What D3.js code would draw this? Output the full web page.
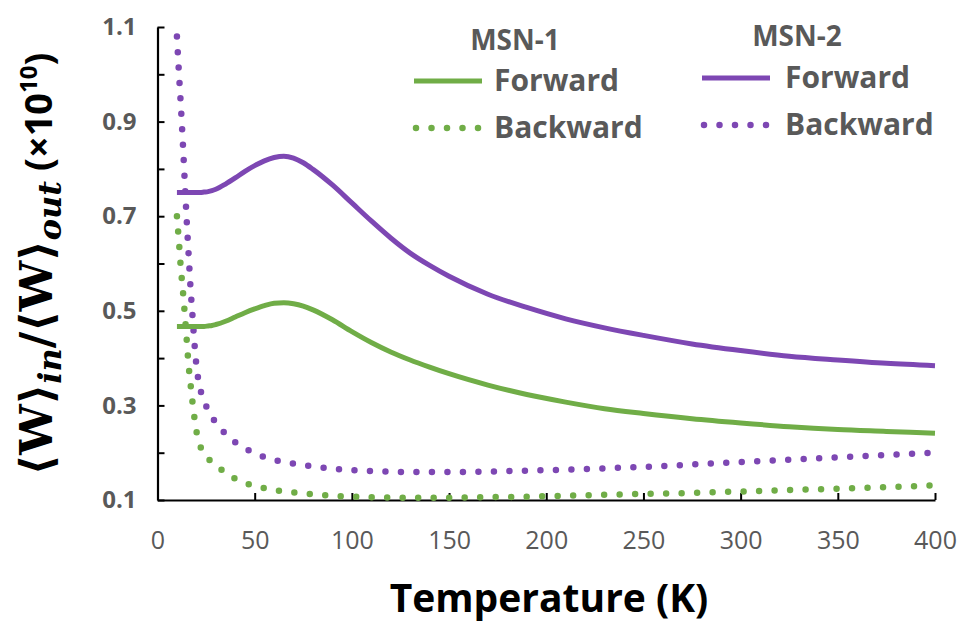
<!DOCTYPE html>
<html>
<head>
<meta charset="utf-8">
<script src="https://cdn.jsdelivr.net/npm/d3@7"></script>
<style>
  body { margin: 0; background: #fff; }
  svg { display: block; }
</style>
</head>
<body>
<script>
// temperature grid (K)
var temps = [10, 11, 12, 13, 14, 15, 16, 17, 18, 19, 20, 22, 24, 26, 28, 30, 35, 40, 45, 50,
             55, 60, 65, 70, 75, 80, 90, 100, 110, 120, 130, 140, 150, 170, 190, 210, 230,
             250, 275, 300, 325, 350, 375, 400];

var msn1Forward = [0.467, 0.467, 0.467, 0.467, 0.467, 0.467, 0.467, 0.467, 0.467, 0.467, 0.467,
                   0.467, 0.467, 0.468, 0.469, 0.471, 0.478, 0.487, 0.496, 0.504, 0.511, 0.516,
                   0.517, 0.515, 0.510, 0.502, 0.481, 0.456, 0.433, 0.413, 0.396, 0.381, 0.367,
                   0.343, 0.323, 0.307, 0.293, 0.283, 0.272, 0.263, 0.255, 0.249, 0.245, 0.241];

var msn1Backward = [0.700, 0.648, 0.590, 0.545, 0.495, 0.440, 0.385, 0.345, 0.307, 0.274, 0.246,
                    0.214, 0.199, 0.188, 0.180, 0.173, 0.158, 0.145, 0.136, 0.130, 0.125, 0.121,
                    0.118, 0.116, 0.114, 0.112, 0.109, 0.107, 0.106, 0.105, 0.105, 0.105, 0.105,
                    0.106, 0.107, 0.109, 0.111, 0.113, 0.115, 0.118, 0.121, 0.124, 0.127, 0.131];

var msn2Forward = [0.750, 0.750, 0.750, 0.750, 0.750, 0.750, 0.750, 0.750, 0.750, 0.750, 0.750,
                   0.750, 0.751, 0.752, 0.754, 0.757, 0.768, 0.781, 0.795, 0.807, 0.817, 0.824,
                   0.827, 0.823, 0.813, 0.799, 0.766, 0.728, 0.690, 0.654, 0.622, 0.596, 0.573,
                   0.535, 0.507, 0.483, 0.464, 0.448, 0.430, 0.416, 0.404, 0.396, 0.389, 0.384];

var msn2Backward = [1.080, 1.005, 0.935, 0.858, 0.775, 0.693, 0.620, 0.548, 0.490, 0.432, 0.385,
                    0.335, 0.308, 0.291, 0.276, 0.263, 0.240, 0.222, 0.209, 0.199, 0.191, 0.185,
                    0.180, 0.177, 0.174, 0.171, 0.166, 0.163, 0.161, 0.160, 0.159, 0.159, 0.159,
                    0.160, 0.162, 0.164, 0.167, 0.170, 0.175, 0.180, 0.185, 0.190, 0.195, 0.200];

var xTicks = [0, 50, 100, 150, 200, 250, 300, 350, 400];
var yTicks = [0.1, 0.2, 0.3, 0.4, 0.5, 0.6, 0.7, 0.8, 0.9, 1.0, 1.1];
var yLabels = ["0.1", "0.3", "0.5", "0.7", "0.9", "1.1"];

var green = "#70ad47";
var purple = "#7d47b3";
var grey = "#595959";

var width = 963;
var height = 624;

var svg = d3.select("body")
    .append("svg")
    .attr("width", width)
    .attr("height", height);

var x = d3.scaleLinear().domain([0, 400]).range([157.5, 935]);
var y = d3.scaleLinear().domain([0.1, 1.1]).range([500, 27]);

// axes
var xAxis = svg.append("g")
    .attr("transform", "translate(0," + y(0.1) + ")")
    .call(d3.axisBottom(x).tickValues(xTicks).tickSizeInner(-7).tickSizeOuter(0).tickPadding(31));

var yAxis = svg.append("g")
    .attr("transform", "translate(" + x(0) + ",0)")
    .call(d3.axisLeft(y).tickValues(yTicks).tickSizeInner(-7).tickSizeOuter(0).tickPadding(21)
        .tickFormat(function(d) {
            var s = d3.format(".1f")(d);
            return yLabels.indexOf(s) >= 0 ? s : "";
        }));

svg.selectAll(".domain").attr("stroke", "#000").attr("stroke-width", 2.2);
svg.selectAll(".tick line").attr("stroke", "#000").attr("stroke-width", 2);

xAxis.selectAll("text")
    .attr("fill", grey)
    .style("font-family", "'Open Sans', sans-serif")
    .style("font-size", "25px");

yAxis.selectAll("text")
    .attr("fill", grey)
    .style("font-family", "'Open Sans', sans-serif")
    .style("font-weight", "bold")
    .style("font-size", "24px");

// lines
var line = d3.line()
    .x(function(d) { return x(d[0]); })
    .y(function(d) { return y(d[1]); })
    .curve(d3.curveMonotoneX);

var series = [
    { vals: msn1Backward, color: green, dotted: true },
    { vals: msn2Backward, color: purple, dotted: true },
    { vals: msn1Forward, color: green, dotted: false },
    { vals: msn2Forward, color: purple, dotted: false }
];

series.forEach(function(s) {
    var pts = temps.map(function(t, i) { return [t, s.vals[i]]; });
    var p = svg.append("path")
        .attr("d", line(pts))
        .attr("fill", "none")
        .attr("stroke", s.color);
    if (s.dotted) {
        p.attr("stroke-width", 6.5)
         .attr("stroke-linecap", "round")
         .attr("stroke-dasharray", "0 15.5");
    } else {
        p.attr("stroke-width", 5);
    }
});

// legend
var legend = [
    { title: "MSN-1", tx: 515, ty: 50, color: green, lx: 414, fy: 81, by: 128, textX: 494 },
    { title: "MSN-2", tx: 797, ty: 46, color: purple, lx: 702, fy: 78, by: 125, textX: 785 }
];

legend.forEach(function(l) {
    svg.append("text")
        .attr("x", l.tx).attr("y", l.ty)
        .attr("text-anchor", "middle")
        .attr("fill", grey)
        .style("font-family", "'Open Sans', sans-serif")
        .style("font-weight", "bold")
        .style("font-size", "28px")
        .text(l.title);

    svg.append("line")
        .attr("x1", l.lx).attr("x2", l.lx + 68)
        .attr("y1", l.fy).attr("y2", l.fy)
        .attr("stroke", l.color).attr("stroke-width", 5);

    svg.append("line")
        .attr("x1", l.lx + 2).attr("x2", l.lx + 66)
        .attr("y1", l.by).attr("y2", l.by)
        .attr("stroke", l.color).attr("stroke-width", 6.5)
        .attr("stroke-linecap", "round")
        .attr("stroke-dasharray", "0 15.5");

    [["Forward", l.fy], ["Backward", l.by]].forEach(function(e) {
        svg.append("text")
            .attr("x", l.textX).attr("y", e[1] + 10)
            .attr("fill", grey)
            .style("font-family", "'Open Sans', sans-serif")
            .style("font-weight", "bold")
            .style("font-size", "30px")
            .text(e[0]);
    });
});

// axis titles
svg.append("text")
    .attr("x", 549).attr("y", 612)
    .attr("text-anchor", "middle")
    .attr("fill", "#000")
    .style("font-family", "'Open Sans', sans-serif")
    .style("font-weight", "bold")
    .style("font-size", "39px")
    .text("Temperature (K)");

var yt = svg.append("text")
    .attr("transform", "translate(52,264) rotate(-90)")
    .attr("text-anchor", "middle")
    .attr("fill", "#000")
    .style("font-weight", "bold");

function part(txt, fam, size, style, dy) {
    var t = yt.append("tspan")
        .style("font-family", fam)
        .style("font-size", size + "px")
        .text(txt);
    if (style) t.style("font-style", style);
    if (dy) t.attr("dy", dy);
    return t;
}
var serif = "'DejaVu Serif', serif";
var sans = "'Open Sans', sans-serif";
part("\u27e8W\u27e9", serif, 45);
part("in", serif, 32, "italic", 9);
part("/\u27e8W\u27e9", serif, 45, null, -9);
part("out", serif, 32, "italic", 9);
part(" (\u00d710", sans, 38, null, -9);
part("10", sans, 24, null, -15);
part(")", sans, 38, null, 15);
</script>
</body>
</html>
